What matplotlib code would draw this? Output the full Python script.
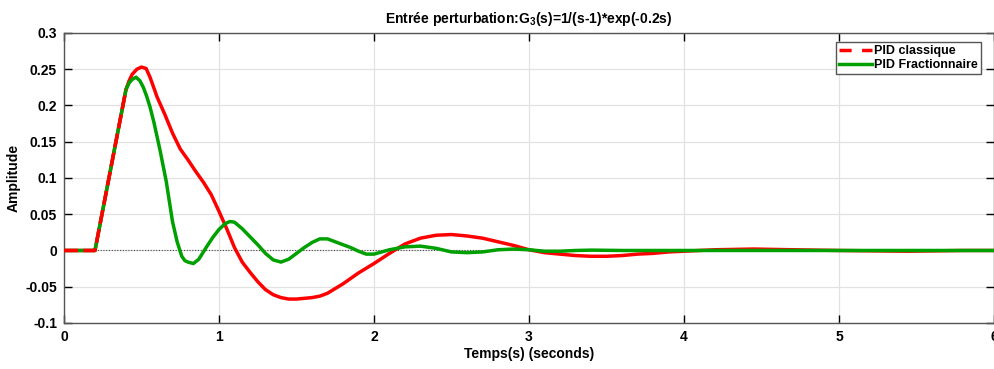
import matplotlib
matplotlib.use("Agg")
import matplotlib.pyplot as plt
import numpy as np

# step response to a disturbance input
t_pid = [0, 0.2, 0.4, 0.42, 0.44, 0.47, 0.5, 0.53, 0.555, 0.587, 0.6, 0.65, 0.7, 0.75, 0.8,
         0.85, 0.9, 0.95, 1.0, 1.05, 1.1, 1.15, 1.2, 1.25, 1.3, 1.35, 1.4, 1.45, 1.5, 1.55,
         1.6, 1.65, 1.7, 1.8, 1.9, 2.0, 2.1, 2.2, 2.3, 2.4, 2.5, 2.6, 2.7, 2.8, 2.9, 3.0,
         3.1, 3.2, 3.3, 3.4, 3.5, 3.6, 3.7, 3.8, 3.9, 4.0, 4.2, 4.45, 4.7, 5.0, 5.44, 5.8, 6.0]
y_pid = [0, 0, 0.222, 0.234, 0.243, 0.250, 0.253, 0.251, 0.239, 0.220, 0.212, 0.188, 0.162,
         0.140, 0.125, 0.109, 0.094, 0.077, 0.054, 0.030, 0.004, -0.016, -0.030, -0.043,
         -0.054, -0.061, -0.065, -0.067, -0.067, -0.066, -0.065, -0.063, -0.059, -0.046,
         -0.031, -0.018, -0.004, 0.009, 0.017, 0.021, 0.022, 0.020, 0.017, 0.012, 0.007,
         0.001, -0.003, -0.005, -0.007, -0.008, -0.008, -0.007, -0.005, -0.004, -0.002,
         -0.001, 0.001, 0.002, 0.001, 0.0, -0.001, 0.0, 0.0]

t_frac = [0, 0.2, 0.4, 0.42, 0.44, 0.465, 0.49, 0.512, 0.533, 0.555, 0.58, 0.62, 0.66, 0.7,
          0.73, 0.76, 0.78, 0.8, 0.835, 0.87, 0.92, 0.96, 1.0, 1.04, 1.07, 1.1, 1.15, 1.2,
          1.25, 1.3, 1.35, 1.4, 1.45, 1.5, 1.55, 1.6, 1.65, 1.7, 1.75, 1.8, 1.85, 1.9, 1.95,
          2.0, 2.1, 2.2, 2.3, 2.4, 2.5, 2.6, 2.7, 2.8, 2.9, 3.0, 3.1, 3.2, 3.3, 3.4, 3.6,
          4.0, 5.0, 6.0]
y_frac = [0, 0, 0.222, 0.231, 0.236, 0.239, 0.234, 0.225, 0.213, 0.198, 0.177, 0.138, 0.095,
          0.040, 0.012, -0.008, -0.014, -0.016, -0.018, -0.012, 0.005, 0.018, 0.029, 0.037,
          0.040, 0.039, 0.030, 0.019, 0.008, -0.004, -0.013, -0.016, -0.012, -0.004, 0.004,
          0.011, 0.016, 0.016, 0.012, 0.008, 0.004, -0.001, -0.005, -0.005, 0.001, 0.005,
          0.006, 0.003, -0.002, -0.003, -0.002, 0.001, 0.002, 0.001, -0.001, -0.001, 0.0,
          0.0005, 0.0, 0.0, 0.0, 0.0]

x_ticks = [0, 1, 2, 3, 4, 5, 6]
y_ticks = [-0.1, -0.05, 0, 0.05, 0.1, 0.15, 0.2, 0.25, 0.3]

plt.rcParams['font.family'] = ['Liberation Sans', 'DejaVu Sans']
plt.rcParams['font.weight'] = 'bold'
plt.rcParams['mathtext.fontset'] = 'custom'
plt.rcParams['mathtext.rm'] = 'Liberation Sans:bold'
plt.rcParams['mathtext.bf'] = 'Liberation Sans:bold'

fig = plt.figure(figsize=(9.95, 3.69), dpi=100)
ax = fig.add_axes([0.0643, 0.1247, 0.9347, 0.7859])

t_pid = np.array(t_pid)
y_pid = np.array(y_pid)
rise = t_pid <= 0.4

ax.plot(t_pid, y_pid, color='#ff0000', lw=2.5, zorder=3)
ax.plot(t_frac, y_frac, color='#00a000', lw=2.5, zorder=4, label='PID Fractionnaire')
# dashes only show on the sparse rising part, where green runs underneath
ax.plot(t_pid[rise], y_pid[rise], color='#ff0000', lw=2.5, dashes=(4, 1.6), zorder=5)
h_red, = ax.plot([], [], color='#ff0000', lw=2.5, dashes=(3.5, 3), label='PID classique')

ax.axhline(0, color='#444444', lw=0.8, ls=(0, (1, 1.5)), zorder=2)

ax.set_xlim(0, 6)
ax.set_ylim(-0.1, 0.3)
ax.set_xticks(x_ticks)
ax.set_yticks(y_ticks)
ax.set_yticklabels(['%g' % v for v in y_ticks])
ax.grid(True, color='#e2e2e2', lw=0.9, zorder=0)
ax.set_axisbelow(True)
ax.tick_params(direction='in', length=6, width=1, top=True, right=True,
               labelsize=10, pad=5, colors='black')
for s in ax.spines.values():
    s.set_color('#555555')
    s.set_linewidth(1)

ax.set_title('Entrée perturbation:G$_3$(s)=1/(s-1)*exp(-0.2s)', fontsize=10,
             fontweight='bold', pad=7)
ax.set_xlabel('Temps(s) (seconds)', fontsize=10, fontweight='bold', labelpad=2)
ax.set_ylabel('Amplitude', fontsize=10, fontweight='bold', labelpad=3)

handles, labels = ax.get_legend_handles_labels()
order = [labels.index('PID classique'), labels.index('PID Fractionnaire')]
leg = ax.legend([handles[i] for i in order], [labels[i] for i in order],
                loc='upper right', bbox_to_anchor=(0.986, 0.969), fontsize=9,
                fancybox=False, framealpha=1, edgecolor='#555555', handlelength=2.6,
                handletextpad=0.2, borderpad=0.25, labelspacing=0.15, borderaxespad=0)
leg.get_frame().set_linewidth(1)

fig.savefig('out.png', dpi=100)
